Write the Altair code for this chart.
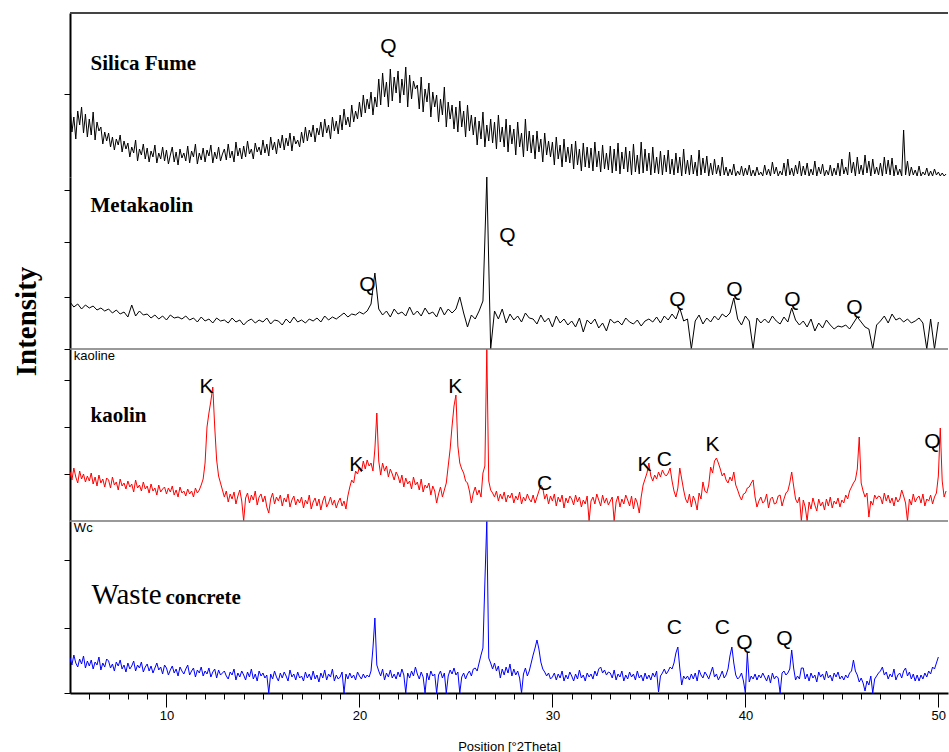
import altair as alt
import pandas as pd

# ---------------- data ----------------
START = 5.0

# silica fume: 0.1 deg steps from 5.0
silica_fume = [
    72, 45, 60, 38, 66, 52, 70, 44, 63, 40,
    58, 42, 65, 37, 55, 46, 50, 33, 45, 36,
    44, 30, 40, 27, 38, 32, 42, 25, 36, 28,
    34, 20, 30, 24, 37, 16, 28, 22, 33, 18,
    29, 15, 26, 20, 32, 14, 24, 18, 30, 16,
    27, 13, 22, 30, 15, 25, 12, 28, 19, 24,
    16, 31, 14, 26, 20, 33, 13, 24, 17, 29,
    15, 27, 21, 32, 14, 25, 18, 30, 16, 23,
    28, 17, 33, 19, 26, 15, 35, 21, 29, 18,
    31, 20, 36, 23, 28, 18, 34, 25, 30, 22,
    37, 24, 33, 21, 40, 27, 35, 23, 38, 29,
    42, 27, 39, 31, 44, 26, 41, 33, 37, 30,
    45, 34, 50, 36, 47, 40, 52, 35, 49, 42,
    55, 40, 58, 44, 52, 38, 60, 46, 56, 43,
    62, 47, 68, 52, 60, 50, 72, 55, 66, 58,
    75, 60, 82, 64, 78, 68, 85, 62, 80, 70,
    98, 72, 104, 80, 95, 70, 108, 76, 100, 84,
    106, 74, 98, 82, 110, 70, 102, 78, 96, 88,
    92, 68, 100, 65, 88, 75, 94, 60, 85, 70,
    82, 55, 78, 62, 90, 50, 75, 58, 72, 48,
    70, 45, 76, 50, 66, 40, 72, 46, 62, 42,
    60, 32, 56, 38, 65, 30, 52, 36, 58, 34,
    55, 28, 62, 35, 50, 30, 58, 25, 52, 33,
    48, 22, 55, 30, 44, 20, 58, 26, 46, 24,
    42, 18, 46, 25, 38, 15, 44, 22, 36, 20,
    35, 12, 40, 18, 32, 10, 38, 15, 30, 14,
    33, 8, 36, 12, 28, 6, 34, 10, 30, 9,
    29, 6, 35, 10, 26, 5, 32, 8, 24, 7,
    31, 4, 28, 6, 34, 3, 25, 8, 30, 5,
    26, 2, 33, 5, 22, 3, 35, 4, 28, 6,
    24, 2, 30, 4, 20, 3, 26, 2, 22, 5,
    27, 3, 18, 2, 24, 4, 20, 1, 28, 3,
    17, 2, 22, 3, 15, 1, 27, 2, 19, 4,
    21, 1, 14, 2, 18, 3, 12, 1, 20, 2,
    10, 1, 8, 2, 13, 1, 6, 2, 11, 1,
    9, 2, 12, 1, 7, 1, 10, 2, 5, 1,
    12, 2, 8, 1, 15, 3, 10, 1, 6, 2,
    14, 1, 18, 2, 9, 1, 12, 3, 16, 1,
    11, 2, 14, 1, 8, 2, 16, 1, 10, 3,
    13, 1, 7, 2, 12, 1, 9, 2, 14, 1,
    18, 3, 10, 2, 25, 4, 15, 1, 20, 3,
    12, 2, 22, 4, 16, 1, 18, 3, 10, 2,
    14, 1, 20, 3, 17, 2, 19, 1, 12, 2,
    8, 1, 47, 2, 16, 1, 10, 2, 7, 1,
    11, 1, 5, 2, 9, 1, 6, 1, 8, 2,
    5, 1, 4, 1, 3,
]

# metakaolin: 0.2 deg steps from 5.0
metakaolin = [
    47, 42, 45, 40, 44, 41, 43, 39, 41, 38,
    40, 36, 39, 35, 37, 32, 44, 33, 38, 34,
    35, 31, 34, 30, 33, 29, 34, 31, 32, 30,
    33, 29, 31, 27, 32, 28, 30, 26, 31, 28,
    29, 26, 31, 27, 29, 24, 28, 30, 26, 29,
    27, 31, 25, 29, 28, 24, 30, 26, 32, 27,
    29, 26, 30, 28, 31, 27, 33, 29, 32, 30,
    33, 36, 32, 35, 34, 37, 35, 38, 45, 76,
    40, 34, 38, 32, 40, 35, 37, 33, 42, 34,
    38, 33, 41, 35, 37, 32, 42, 34, 40, 36,
    40, 52, 36, 22, 34, 30, 38, 48, 172, 0,
    38, 30, 40, 26, 35, 29, 33, 27, 36, 31,
    30, 25, 34, 27, 31, 22, 33, 26, 30, 24,
    28, 22, 31, 17, 29, 25, 30, 21, 26, 18,
    30, 26, 28, 24, 31, 27, 25, 29, 23, 28,
    30, 27, 32, 26, 33, 29, 35, 30, 41, 28,
    30, 0, 28, 34, 25, 31, 27, 33, 29, 35,
    32, 36, 51, 30, 24, 33, 28, 0, 31, 26,
    30, 26, 33, 28, 25, 32, 27, 41, 29, 24,
    28, 22, 30, 18, 26, 21, 29, 24, 20, 23,
    22, 24, 20, 26, 32, 27, 22, 20, 0, 24,
    28, 33, 26, 35, 29, 31, 27, 30, 26, 28,
    31, 26, 0, 30, 0, 27,
]

# kaolin: one row per degree (5, 6, ... 50), 0.1 deg steps inside a row
kaolin_rows = [
    [49, 41, 53, 44, 38, 50, 42, 47, 39, 45],
    [40, 48, 37, 44, 35, 46, 38, 42, 34, 43],
    [41, 33, 44, 36, 39, 31, 42, 35, 38, 32],
    [40, 34, 37, 29, 41, 33, 36, 30, 39, 32],
    [35, 28, 37, 30, 33, 26, 36, 29, 32, 34],
    [27, 33, 29, 35, 26, 31, 24, 34, 28, 30],
    [25, 32, 27, 30, 24, 33, 28, 31, 36, 42],
    [58, 94, 108, 120, 134, 94, 61, 45, 38, 31],
    [24, 30, 19, 27, 22, 29, 17, 25, 31, 20],
    [0, 23, 28, 18, 26, 21, 30, 16, 24, 27],
    [19, 25, 14, 8, 22, 28, 17, 24, 20, 26],
    [15, 23, 19, 27, 14, 21, 25, 16, 22, 18],
    [24, 13, 21, 17, 26, 12, 19, 23, 15, 22],
    [11, 20, 25, 14, 18, 24, 16, 21, 13, 19],
    [23, 15, 20, 12, 25, 34, 41, 38, 50, 47],
    [54, 49, 60, 52, 61, 55, 58, 50, 72, 108],
    [60, 46, 58, 50, 55, 44, 52, 47, 41, 49],
    [45, 38, 46, 34, 43, 37, 40, 32, 44, 36],
    [39, 31, 42, 29, 36, 33, 38, 26, 35, 30],
    [18, 27, 34, 24, 31, 38, 55, 72, 95, 115],
    [126, 75, 58, 52, 48, 40, 38, 30, 18, 28],
    [34, 26, 31, 24, 48, 55, 172, 40, 31, 28],
    [24, 30, 20, 27, 22, 29, 19, 26, 23, 28],
    [18, 25, 21, 29, 17, 24, 20, 27, 22, 19],
    [26, 18, 24, 30, 36, 33, 22, 27, 17, 25],
    [20, 27, 15, 24, 19, 26, 13, 23, 18, 25],
    [22, 16, 26, 19, 24, 14, 21, 17, 25, 0],
    [20, 24, 17, 27, 21, 15, 26, 18, 23, 16],
    [20, 24, 0, 19, 25, 14, 22, 17, 26, 21],
    [15, 25, 12, 23, 18, 8, 24, 36, 42, 48],
    [58, 45, 40, 46, 42, 49, 44, 51, 47, 45],
    [48, 53, 40, 30, 24, 33, 53, 42, 31, 22],
    [18, 27, 14, 25, 20, 11, 28, 22, 39, 30],
    [28, 36, 54, 48, 60, 63, 58, 52, 45, 48],
    [41, 38, 44, 40, 49, 36, 31, 25, 21, 27],
    [28, 33, 34, 38, 41, 24, 14, 20, 24, 18],
    [20, 27, 13, 22, 24, 17, 18, 25, 26, 15],
    [22, 28, 30, 38, 49, 35, 22, 18, 24, 0],
    [21, 14, 0, 19, 12, 23, 16, 10, 22, 15],
    [19, 11, 22, 15, 24, 13, 20, 17, 23, 14],
    [21, 18, 26, 22, 30, 34, 38, 41, 52, 84],
    [38, 30, 24, 28, 4, 20, 16, 26, 22, 25],
    [24, 17, 28, 20, 26, 18, 23, 15, 24, 19],
    [22, 31, 25, 18, 0, 22, 16, 27, 19, 23],
    [25, 18, 27, 15, 22, 20, 26, 17, 24, 28],
    [45, 93, 40, 24, 30],
]

# waste concrete: one row per degree (5, 6, ... 50), 0.1 deg steps inside a row
waste_rows = [
    [35, 28, 38, 30, 26, 34, 29, 37, 25, 32],
    [27, 33, 24, 31, 28, 36, 23, 30, 26, 34],
    [32, 25, 29, 22, 31, 27, 33, 24, 28, 21],
    [30, 24, 27, 32, 22, 28, 25, 31, 21, 26],
    [29, 22, 27, 20, 25, 30, 23, 26, 19, 28],
    [25, 18, 23, 27, 20, 24, 17, 26, 22, 19],
    [24, 28, 18, 22, 25, 16, 23, 20, 26, 17],
    [22, 19, 25, 16, 21, 24, 15, 23, 18, 20],
    [22, 17, 14, 21, 18, 24, 13, 20, 16, 22],
    [18, 13, 21, 16, 24, 14, 19, 12, 22, 17],
    [20, 15, 18, 0, 19, 14, 22, 16, 12, 20],
    [15, 21, 17, 12, 23, 16, 19, 13, 21, 15],
    [17, 12, 21, 15, 19, 13, 22, 14, 18, 11],
    [20, 15, 23, 13, 19, 16, 24, 12, 18, 14],
    [16, 21, 0, 19, 14, 20, 15, 18, 13, 21],
    [17, 14, 19, 15, 18, 16, 22, 45, 75, 28],
    [22, 17, 24, 13, 20, 16, 23, 15, 19, 14],
    [21, 16, 24, 18, 0, 20, 15, 22, 17, 26],
    [19, 14, 21, 16, 0, 20, 13, 22, 17, 19],
    [0, 18, 22, 15, 20, 0, 17, 23, 19, 25],
    [18, 21, 0, 16, 20, 14, 19, 22, 17, 24],
    [25, 22, 30, 38, 45, 111, 172, 35, 30, 24],
    [30, 22, 27, 15, 24, 18, 26, 20, 29, 17],
    [24, 18, 22, 15, 0, 19, 25, 17, 22, 30],
    [38, 45, 53, 44, 31, 24, 21, 17, 20, 14],
    [16, 20, 13, 19, 15, 22, 12, 18, 14, 21],
    [17, 12, 19, 14, 23, 15, 18, 12, 20, 16],
    [19, 14, 22, 17, 24, 26, 20, 23, 18, 21],
    [20, 15, 23, 13, 19, 16, 22, 12, 18, 14],
    [21, 16, 19, 13, 22, 15, 18, 12, 20, 14],
    [18, 13, 20, 16, 22, 1, 17, 20, 24, 19],
    [22, 26, 24, 30, 40, 46, 25, 8, 17, 14],
    [17, 13, 19, 14, 20, 12, 23, 18, 15, 21],
    [18, 14, 20, 26, 16, 19, 13, 17, 22, 15],
    [18, 24, 37, 46, 30, 18, 14, 16, 20, 12],
    [0, 40, 11, 17, 14, 19, 13, 18, 15, 20],
    [16, 12, 18, 10, 20, 14, 17, 15, 0, 20],
    [22, 18, 20, 24, 43, 25, 13, 17, 14, 25],
    [25, 14, 19, 12, 20, 15, 18, 11, 21, 16],
    [19, 13, 22, 15, 18, 12, 20, 16, 21, 14],
    [17, 13, 18, 15, 20, 22, 33, 22, 18, 11],
    [15, 10, 2, 12, 8, 17, 0, 14, 17, 20],
    [22, 26, 18, 21, 14, 19, 16, 24, 13, 18],
    [20, 15, 22, 25, 17, 21, 14, 19, 12, 18],
    [12, 18, 14, 20, 16, 22, 19, 26, 24, 30],
    [36],
]

# phase labels: (text, 2theta, intensity)
silica_labels = [("Q", 21.5, 130)]
metakaolin_labels = [("Q", 20.41, 64), ("Q", 27.67, 113), ("Q", 36.48, 49),
                     ("Q", 39.43, 59), ("Q", 42.44, 49), ("Q", 45.65, 41)]
kaolin_labels = [("K", 12.07, 134), ("K", 19.84, 56), ("K", 24.97, 134),
                 ("C", 29.59, 37), ("K", 34.77, 56), ("C", 35.80, 61),
                 ("K", 38.29, 76), ("Q", 49.69, 79)]
waste_labels = [("C", 36.32, 65), ("C", 38.81, 65), ("Q", 39.95, 50), ("Q", 42.02, 54)]

x_tick_values = list(range(6, 51))

# ---------------- chart ----------------
W = 878
X_DOMAIN = [5, 50.5]
SERIF = "Liberation Serif"
SANS = "Liberation Sans"


def flat_df(vals, step):
    return pd.DataFrame({
        "two_theta": [round(START + step * i, 2) for i in range(len(vals))],
        "intensity": vals,
    })


def rows_df(rows):
    tt, iv = [], []
    for k, row in enumerate(rows):
        for j, v in enumerate(row):
            tt.append(round(START + k + 0.1 * j, 2))
            iv.append(v)
    return pd.DataFrame({"two_theta": tt, "intensity": iv})


def labels_df(lbls):
    return pd.DataFrame({"t": [l[0] for l in lbls],
                         "two_theta": [l[1] for l in lbls],
                         "intensity": [l[2] for l in lbls]})


def panel(df, color, height, ymax, yticks, lbls, names, top_rule=None,
          bottom=False, y_title=None):
    xscale = alt.Scale(domain=X_DOMAIN, nice=False, zero=False)
    yscale = alt.Scale(domain=[0, ymax], nice=False, zero=False)
    if bottom:
        xaxis = alt.Axis(
            values=x_tick_values,
            labelExpr="datum.value % 10 === 0 ? datum.label : ''",
            labelOverlap=False,
            tickSize={"condition": {"test": "datum.value % 10 === 0", "value": 14}, "value": 6},
            tickColor="black", domainColor="black", domainWidth=2,
            labelFont=SANS, labelFontSize=13, labelColor="black",
            labelPadding=2, labelFlush=False, labelBound=False, grid=False,
            title="Position [°2Theta]", titleFont=SANS, titleFontSize=13,
            titleFontWeight="normal", titleColor="black", titlePadding=18,
        )
    else:
        xaxis = None
    yaxis_kw = dict(values=yticks, labels=False, tickSize=6, tickColor="black",
                    domainColor="black", domainWidth=2, grid=False)
    if y_title:
        yaxis_kw.update(title=y_title, titleFont=SERIF, titleFontSize=29,
                        titleFontWeight="bold", titleColor="black", titleAngle=270,
                        titleAlign="center", titleBaseline="alphabetic",
                        titleX=-35, titleY=144)
    else:
        yaxis_kw.update(title=None)
    yaxis = alt.Axis(**yaxis_kw)

    def xy():
        return dict(x=alt.X("two_theta:Q", scale=xscale, axis=xaxis),
                    y=alt.Y("intensity:Q", scale=yscale, axis=yaxis))

    line = alt.Chart(df).mark_line(
        color=color, strokeWidth=1, clip=True, interpolate="linear"
    ).encode(**xy())
    layers = [line]
    if top_rule is not None:
        layers.append(alt.Chart(pd.DataFrame({"a": [0]})).mark_rule(
            color=top_rule[0], strokeWidth=top_rule[1]
        ).encode(y=alt.value(0), x=alt.value(0), x2=alt.value(W)))
    layers.append(alt.Chart(labels_df(lbls)).mark_text(
        font=SANS, fontSize=21, color="black", baseline="middle", align="center"
    ).encode(text="t:N", **xy()))
    for (txt, tx, ty, font, size, weight) in names:
        layers.append(alt.Chart(pd.DataFrame({"t": [txt], "two_theta": [tx], "intensity": [ty]})).mark_text(
            font=font, fontSize=size, fontWeight=weight, color="black",
            align="left", baseline="alphabetic"
        ).encode(text="t:N", **xy()))
    return alt.layer(*layers).properties(width=W, height=height)


p1 = panel(flat_df(silica_fume, 0.1), "black", 164, 164, [83], silica_labels,
           [("Silica Fume", 6.06, 107, SERIF, 21, "bold")],
           top_rule=("#444444", 2))
p2 = panel(flat_df(metakaolin, 0.2), "black", 172, 172, [0, 52, 107, 159], metakaolin_labels,
           [("Metakaolin", 6.06, 137, SERIF, 21, "bold")],
           y_title="Intensity")
p3 = panel(rows_df(kaolin_rows), "#ff0000", 172, 172, [47, 94, 141], kaolin_labels,
           [("kaolin", 6.06, 99, SERIF, 21, "bold"),
            ("kaoline", 5.2, 161, SANS, 13, "normal")],
           top_rule=("#777777", 1.5))
p4 = panel(rows_df(waste_rows), "#0000ff", 172, 172, [0, 65, 133], waste_labels,
           [("Waste", 6.11, 89, SERIF, 29, "normal"),
            ("concrete", 9.95, 89, SERIF, 21, "bold"),
            ("Wc", 5.2, 161, SANS, 13, "normal")],
           top_rule=("#777777", 1.5), bottom=True)

chart = alt.vconcat(p1, p2, p3, p4, spacing=0, bounds="flush").properties(
    padding={"left": 12, "top": 12, "right": 0, "bottom": 0},
    background="white",
).configure_view(stroke=None)

chart.save("out.html", embed_options={"renderer": "svg", "actions": False})
